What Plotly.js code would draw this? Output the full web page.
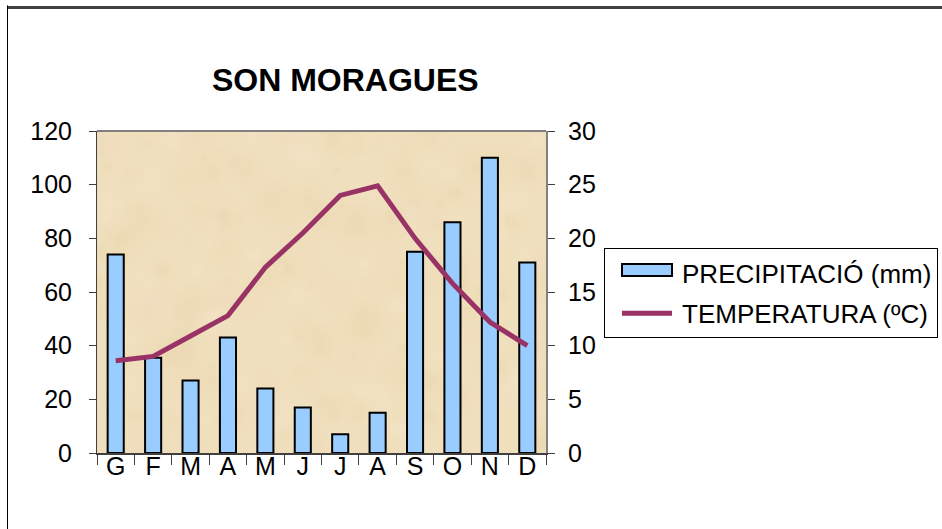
<!DOCTYPE html>
<html>
<head>
<meta charset="utf-8">
<script src="https://cdn.plot.ly/plotly-3.0.1.min.js"></script>
<style>html,body{margin:0;padding:0;background:#fff;}#chart{width:942px;height:529px;}</style>
</head>
<body>
<div id="chart"></div>
<script>
const months = ["G","F","M","A","M ","J","J ","A ","S","O","N","D"];
const monthLabels = ["G","F","M","A","M","J","J","A","S","O","N","D"];
const precipitation = [74, 35.5, 27, 43, 24, 17, 7, 15, 75, 86, 110, 71];
const temperature = [8.6, 9, 10.9, 12.8, 17.3, 20.5, 24, 24.9, 20, 15.8, 12.2, 10];
const leftTicks = [0, 20, 40, 60, 80, 100, 120];
const rightTicks = [0, 5, 10, 15, 20, 25, 30];

const font = "Arial, 'Liberation Sans', sans-serif";

// parchment-like background texture (deterministic, purely decorative)
function makeTexture() {
  const c = document.createElement("canvas");
  c.width = 450; c.height = 322;
  const g = c.getContext("2d");
  g.fillStyle = "#f0dfbd";
  g.fillRect(0, 0, c.width, c.height);
  let s = 12345;
  const rnd = () => { s = (s * 1103515245 + 12345) % 2147483648; return s / 2147483648; };
  const cols = ["rgba(226,200,150,0.22)", "rgba(246,234,208,0.30)", "rgba(234,208,180,0.22)", "rgba(230,206,160,0.18)"];
  for (let i = 0; i < 260; i++) {
    const x = rnd() * c.width, y = rnd() * c.height, r = 6 + rnd() * 30;
    const grd = g.createRadialGradient(x, y, 0, x, y, r);
    const col = cols[Math.floor(rnd() * cols.length)];
    grd.addColorStop(0, col);
    grd.addColorStop(1, "rgba(240,223,189,0)");
    g.fillStyle = grd;
    g.beginPath(); g.arc(x, y, r, 0, Math.PI * 2); g.fill();
  }
  return c.toDataURL("image/png");
}

const traces = [
  {
    type: "bar", name: "PRECIPITACIÓ (mm)", x: months, y: precipitation,
    marker: {color: "#99ccff", line: {color: "#000000", width: 2}},
    legendgroup: "a"
  },
  {
    type: "scatter", mode: "lines", name: "TEMPERATURA (ºC)", x: months, y: temperature,
    yaxis: "y2", line: {color: "#993366", width: 5},
    legendgroup: "b"
  }
];

const layout = {
  width: 942, height: 529,
  margin: {l: 97, r: 396, t: 131, b: 76, autoexpand: false},
  paper_bgcolor: "#ffffff",
  plot_bgcolor: "#efdcb8",
  font: {family: font, size: 25, color: "#000"},
  title: {text: "<b>SON MORAGUES</b>", font: {family: font, size: 32, color: "#000"},
          x: 0.3665, xanchor: "center", y: 0.849, yanchor: "middle", xref: "container", yref: "container"},
  bargap: 0.57,
  showlegend: true,
  legend: {x: 1.1292, y: 0.6366, xanchor: "left", yanchor: "top",
           bgcolor: "#ffffff", bordercolor: "#000000", borderwidth: 1,
           font: {family: font, size: 26, color: "#000"},
           traceorder: "grouped", tracegroupgap: 4, itemwidth: 67},
  images: [{source: makeTexture(), xref: "paper", yref: "paper", x: 0, y: 1, sizex: 1, sizey: 1,
            xanchor: "left", yanchor: "top", sizing: "stretch", layer: "below"}],
  xaxis: {
    type: "category", range: [-0.5, 11.5], tickmode: "array", tickvals: months, ticktext: monthLabels,
    tickson: "boundaries", ticks: "outside", ticklen: 10, tickcolor: "#404040", tickwidth: 1,
    showline: true, linecolor: "#404040", linewidth: 2, showgrid: false, zeroline: false,
    ticklabelstandoff: -10,
    tickfont: {family: font, size: 25, color: "#000"}, fixedrange: true
  },
  yaxis: {
    range: [0, 120], tickmode: "array", tickvals: leftTicks,
    ticks: "outside", ticklen: 7, tickcolor: "#404040", tickwidth: 1,
    showline: true, linecolor: "#404040", linewidth: 1, showgrid: false, zeroline: false,
    ticklabelstandoff: 12,
    tickfont: {family: font, size: 25, color: "#000"}, fixedrange: true
  },
  yaxis2: {
    range: [0, 30], tickmode: "array", tickvals: rightTicks, overlaying: "y", side: "right",
    ticks: "outside", ticklen: 7, tickcolor: "#404040", tickwidth: 1,
    showline: true, linecolor: "#808080", linewidth: 2, showgrid: false, zeroline: false,
    ticklabelstandoff: 8,
    tickfont: {family: font, size: 25, color: "#000"}, fixedrange: true
  },
  shapes: [
    {type: "line", xref: "paper", yref: "paper", x0: 0, x1: 1, y0: 1, y1: 1, line: {color: "#808080", width: 2}},
    {type: "line", xref: "paper", yref: "paper", x0: -0.2004, x1: 1.9, y0: 1.3835, y1: 1.3835, line: {color: "#404040", width: 3}},
    {type: "line", xref: "paper", yref: "paper", x0: -0.1993, x1: -0.1993, y0: 1.39, y1: -0.25, line: {color: "#000000", width: 1}}
  ]
};

Plotly.newPlot("chart", traces, layout, {displayModeBar: false, staticPlot: true}).then(function () {
  // widen legend swatches to match the reference's long symbols
  const root = document.getElementById("chart").getBoundingClientRect();
  const items = document.querySelectorAll("#chart .legend .traces");
  items.forEach(function (it, i) {
    if (i === 0) {
      const p = it.querySelector(".legendpoints path");
      if (p) {
        const r = p.getBoundingClientRect();
        const cx = (r.left + r.right) / 2 - root.left;
        const cy = (r.top + r.bottom) / 2 - root.top;
        const dx = 647 - cx, dy = 270 - cy;
        p.setAttribute("d", "M" + (dx + 25) + "," + (dy + 6) + "H" + (dx - 25) + "V" + (dy - 6) + "H" + (dx + 25) + "Z");
        p.style.strokeWidth = "2px";
      }
    } else {
      const p = it.querySelector(".legendlines path");
      if (p) {
        const bb = p.getBBox();
        const r = p.getBoundingClientRect();
        const off = r.left - root.left - bb.x;
        p.setAttribute("d", "M" + (622 - off) + ",0h50");
        p.style.strokeWidth = "5px";
      }
    }
  });
});
</script>
</body>
</html>
